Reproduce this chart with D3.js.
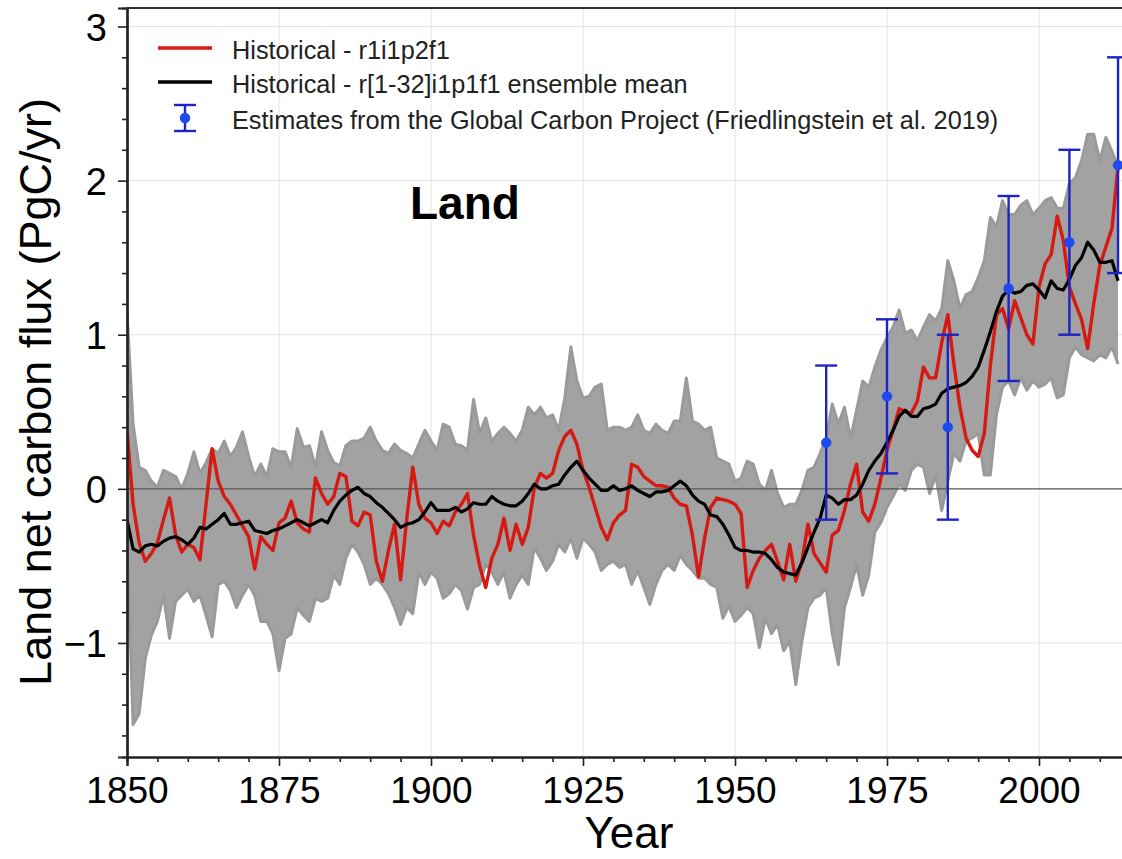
<!DOCTYPE html>
<html>
<head>
<meta charset="utf-8">
<script src="https://cdn.jsdelivr.net/npm/d3@7"></script>
<style>
  html, body { margin: 0; padding: 0; background: #fff; }
  svg { display: block; font-family: "Liberation Sans", Arial, sans-serif; }
</style>
</head>
<body>
<svg id="chart" width="1122" height="859"></svg>
<script>
// ---------------- DATA ----------------
const startYear = 1850;

// Historical - r1i1p2f1 (red), annual 1850..2013
const redSeries = [
  0.38, -0.10, -0.35, -0.47, -0.42, -0.35, -0.20, -0.06, -0.30, -0.41,
  -0.36, -0.38, -0.46, -0.10, 0.26, 0.05, -0.05, -0.10, -0.17, -0.24,
  -0.31, -0.52, -0.31, -0.36, -0.40, -0.22, -0.19, -0.08, -0.22, -0.26,
  -0.28, 0.07, -0.03, -0.10, -0.05, 0.10, 0.08, -0.21, -0.24, -0.15,
  -0.17, -0.47, -0.60, -0.40, -0.23, -0.59, -0.20, 0.14, -0.10, -0.19,
  -0.22, -0.29, -0.21, -0.24, -0.15, -0.10, -0.03, -0.30, -0.50, -0.64,
  -0.45, -0.36, -0.19, -0.40, -0.23, -0.36, -0.25, 0.01, 0.10, 0.07,
  0.10, 0.25, 0.34, 0.38, 0.29, 0.12, 0.01, -0.12, -0.25, -0.33,
  -0.22, -0.17, -0.14, 0.16, 0.14, 0.08, 0.05, 0.02, 0.02, 0.01,
  -0.06, -0.10, -0.11, -0.30, -0.57, -0.32, -0.12, -0.06, -0.07, -0.08,
  -0.10, -0.16, -0.64, -0.53, -0.45, -0.40, -0.36, -0.47, -0.59, -0.36,
  -0.60, -0.47, -0.23, -0.42, -0.48, -0.54, -0.30, -0.27, -0.14, 0.03,
  0.16, -0.15, -0.21, -0.10, 0.07, 0.25, 0.38, 0.52, 0.50, 0.49,
  0.57, 0.79, 0.72, 0.72, 0.95, 1.13, 0.81, 0.53, 0.33, 0.25,
  0.21, 0.36, 0.80, 1.13, 1.17, 1.04, 1.22, 1.11, 1.00, 0.94,
  1.31, 1.46, 1.52, 1.77, 1.61, 1.31, 1.20, 1.10, 0.91, 1.20,
  1.45, 1.57, 1.69, 2.09
];

// Historical - r[1-32]i1p1f1 ensemble mean (black), annual 1850..2013
const meanSeries = [
  -0.20, -0.39, -0.41, -0.37, -0.36, -0.37, -0.34, -0.32, -0.31, -0.33,
  -0.36, -0.32, -0.25, -0.26, -0.23, -0.20, -0.16, -0.23, -0.23, -0.22,
  -0.21, -0.27, -0.28, -0.29, -0.27, -0.26, -0.24, -0.22, -0.20, -0.22,
  -0.24, -0.22, -0.20, -0.22, -0.14, -0.08, -0.04, -0.01, 0.01, -0.03,
  -0.05, -0.09, -0.12, -0.16, -0.20, -0.25, -0.23, -0.22, -0.20, -0.15,
  -0.09, -0.14, -0.14, -0.14, -0.12, -0.15, -0.13, -0.09, -0.10, -0.10,
  -0.05, -0.08, -0.10, -0.11, -0.11, -0.08, -0.03, 0.03, 0.00, 0.00,
  0.02, 0.03, 0.09, 0.14, 0.18, 0.12, 0.07, 0.03, -0.01, -0.01,
  0.02, -0.01, 0.00, 0.02, -0.01, -0.03, -0.05, -0.02, -0.02, -0.01,
  0.02, 0.05, 0.02, -0.04, -0.08, -0.10, -0.17, -0.18, -0.23, -0.30,
  -0.38, -0.40, -0.40, -0.41, -0.41, -0.42, -0.46, -0.51, -0.54, -0.55,
  -0.56, -0.48, -0.38, -0.28, -0.19, -0.04, -0.06, -0.10, -0.07, -0.07,
  -0.04, 0.03, 0.12, 0.18, 0.23, 0.30, 0.38, 0.47, 0.51, 0.47,
  0.47, 0.52, 0.53, 0.55, 0.62, 0.65, 0.66, 0.67, 0.69, 0.73,
  0.79, 0.90, 1.02, 1.15, 1.25, 1.29, 1.27, 1.28, 1.32, 1.33,
  1.29, 1.24, 1.35, 1.30, 1.29, 1.36, 1.45, 1.50, 1.60, 1.55,
  1.47, 1.47, 1.48, 1.35
];

// Spread of the 32 individual ensemble members (grey): upper and lower edge, annual 1850..2013
const memberUpper = [
  1.15, 0.42, 0.14, 0.12, 0.05, 0.01, 0.12, 0.10, 0.08, 0.00,
  0.10, 0.24, 0.10, 0.17, 0.26, 0.23, 0.31, 0.21, 0.27, 0.37,
  0.21, 0.08, 0.16, 0.08, 0.26, 0.24, 0.24, 0.14, 0.39, 0.27,
  0.28, 0.14, 0.37, 0.25, 0.17, 0.15, 0.28, 0.31, 0.31, 0.33,
  0.40, 0.31, 0.25, 0.23, 0.29, 0.25, 0.23, 0.20, 0.29, 0.38,
  0.31, 0.25, 0.42, 0.40, 0.29, 0.28, 0.25, 0.58, 0.36, 0.46,
  0.31, 0.36, 0.40, 0.36, 0.31, 0.38, 0.53, 0.48, 0.53, 0.46,
  0.48, 0.38, 0.59, 0.92, 0.70, 0.59, 0.60, 0.66, 0.68, 0.38,
  0.40, 0.40, 0.38, 0.40, 0.48, 0.38, 0.36, 0.42, 0.38, 0.36,
  0.44, 0.44, 0.72, 0.44, 0.42, 0.38, 0.40, 0.20, 0.18, 0.16,
  0.05, 0.07, 0.18, 0.16, 0.03, -0.01, 0.12, -0.03, -0.12, -0.10,
  -0.10, -0.01, 0.12, 0.14, 0.23, 0.33, 0.55, 0.42, 0.53, 0.33,
  0.51, 0.70, 0.66, 0.79, 0.90, 0.98, 1.05, 1.16, 1.01, 1.03,
  0.96, 1.05, 1.13, 1.09, 1.17, 1.48, 1.35, 1.17, 1.26, 1.28,
  1.37, 1.48, 1.76, 1.70, 1.87, 1.78, 1.78, 1.84, 1.87, 1.78,
  1.82, 1.87, 1.89, 1.82, 1.82, 1.98, 2.02, 2.13, 2.30, 2.30,
  2.13, 2.28, 2.19, 2.09
];
const memberLower = [
  -0.30, -1.53, -1.46, -1.10, -0.95, -0.86, -0.69, -0.97, -0.73, -0.69,
  -0.65, -0.73, -0.69, -0.82, -0.96, -0.62, -0.60, -0.66, -0.77, -0.69,
  -0.62, -0.69, -0.86, -0.86, -0.94, -1.18, -0.97, -0.94, -0.77, -0.82,
  -0.86, -0.71, -0.73, -0.71, -0.56, -0.62, -0.45, -0.36, -0.41, -0.49,
  -0.62, -0.58, -0.62, -0.68, -0.77, -0.88, -0.77, -0.81, -0.54, -0.62,
  -0.54, -0.58, -0.71, -0.68, -0.62, -0.66, -0.78, -0.64, -0.62, -0.49,
  -0.54, -0.62, -0.54, -0.71, -0.62, -0.56, -0.62, -0.38, -0.45, -0.53,
  -0.47, -0.36, -0.41, -0.32, -0.45, -0.32, -0.36, -0.41, -0.53, -0.49,
  -0.47, -0.51, -0.49, -0.62, -0.53, -0.64, -0.75, -0.62, -0.53, -0.49,
  -0.53, -0.43, -0.49, -0.53, -0.58, -0.58, -0.62, -0.64, -0.84, -0.76,
  -0.86, -0.82, -0.77, -0.81, -1.03, -0.84, -0.94, -0.88, -1.05, -0.99,
  -1.27, -0.99, -0.77, -0.71, -0.69, -0.64, -0.94, -1.14, -0.77, -0.64,
  -0.49, -0.69, -0.56, -0.28, -0.22, -0.12, -0.05, 0.03, -0.01, 0.12,
  0.16, 0.14, -0.03, 0.09, -0.14, 0.05, 0.23, 0.18, 0.31, 0.33,
  0.36, 0.09, 0.09, 0.48, 0.66, 0.70, 0.61, 0.72, 0.64, 0.70,
  0.66, 0.68, 0.72, 0.59, 0.61, 0.85, 0.92, 0.87, 0.85, 0.83,
  0.87, 0.85, 0.92, 0.81
];

// Global Carbon Project estimates (Friedlingstein et al. 2019)
const gcpYears = [1965, 1975, 1985, 1995, 2005, 2013];
const gcpValues = [0.3, 0.6, 0.4, 1.3, 1.6, 2.1];
const gcpLow = [-0.2, 0.1, -0.2, 0.7, 1.0, 1.4];
const gcpHigh = [0.8, 1.1, 1.0, 1.9, 2.2, 2.8];

const xTicks = [1850, 1875, 1900, 1925, 1950, 1975, 2000];
const yTicks = [-1, 0, 1, 2, 3];
const legendLabels = [
  "Historical - r1i1p2f1",
  "Historical - r[1-32]i1p1f1 ensemble mean",
  "Estimates from the Global Carbon Project (Friedlingstein et al. 2019)"
];

// ---------------- DRAWING ----------------
const svg = d3.select("#chart");
const W = 1122, H = 859;
const pLeft = 127, pTop = 8, pBottom = 757;

const x = d3.scaleLinear().domain([1850, 2015]).range([pLeft, pLeft + 165 * 6.08]);
const y = d3.scaleLinear().domain([-1.74, 3.12]).range([pBottom, pTop]);

const red = redSeries.map((v, i) => ({ yr: startYear + i, v }));
const mean = meanSeries.map((v, i) => ({ yr: startYear + i, v }));
const band = memberUpper.map((v, i) => ({ yr: startYear + i, hi: v, lo: memberLower[i] }));

svg.append("defs").append("clipPath").attr("id", "plotclip")
  .append("rect").attr("x", pLeft).attr("y", pTop).attr("width", W - pLeft).attr("height", pBottom - pTop);

// gridlines
const grid = svg.append("g");
grid.selectAll("line.gx").data(xTicks.filter(t => t > 1850)).enter().append("line")
  .attr("x1", d => x(d)).attr("x2", d => x(d)).attr("y1", pTop).attr("y2", pBottom)
  .attr("stroke", "#e4e4e4").attr("stroke-width", 1);
grid.selectAll("line.gy").data(yTicks.filter(t => t !== 0)).enter().append("line")
  .attr("x1", pLeft).attr("x2", W).attr("y1", d => y(d)).attr("y2", d => y(d))
  .attr("stroke", "#e4e4e4").attr("stroke-width", 1);

const plot = svg.append("g").attr("clip-path", "url(#plotclip)");

// grey ensemble members spread
plot.append("path").datum(band)
  .attr("d", d3.area().x(d => x(d.yr)).y0(d => y(d.lo)).y1(d => y(d.hi)))
  .attr("fill", "#a2a2a2");
plot.append("path").datum(band)
  .attr("d", d3.line().x(d => x(d.yr)).y(d => y(d.hi)))
  .attr("fill", "none").attr("stroke", "#9a9a9a").attr("stroke-width", 3).attr("stroke-linejoin", "round");
plot.append("path").datum(band)
  .attr("d", d3.line().x(d => x(d.yr)).y(d => y(d.lo)))
  .attr("fill", "none").attr("stroke", "#9a9a9a").attr("stroke-width", 3).attr("stroke-linejoin", "round");

// zero line
plot.append("line").attr("x1", pLeft).attr("x2", W).attr("y1", y(0)).attr("y2", y(0))
  .attr("stroke", "#555").attr("stroke-width", 1.3);

// red and black lines
const line = d3.line().x(d => x(d.yr)).y(d => y(d.v));
plot.append("path").datum(red).attr("d", line)
  .attr("fill", "none").attr("stroke", "#d41a12").attr("stroke-width", 3.4).attr("stroke-linejoin", "round");
plot.append("path").datum(mean).attr("d", line)
  .attr("fill", "none").attr("stroke", "#000").attr("stroke-width", 3.2).attr("stroke-linejoin", "round");

// error bars
const eb = svg.append("g");
const barCol = "#1e23c8", dotCol = "#1f4af2";
gcpYears.forEach((yr, i) => {
  const cx = x(yr);
  eb.append("line").attr("x1", cx).attr("x2", cx).attr("y1", y(gcpLow[i])).attr("y2", y(gcpHigh[i]))
    .attr("stroke", barCol).attr("stroke-width", 2.4);
  [gcpLow[i], gcpHigh[i]].forEach(v => {
    eb.append("line").attr("x1", cx - 11).attr("x2", cx + 11).attr("y1", y(v)).attr("y2", y(v))
      .attr("stroke", barCol).attr("stroke-width", 2.4);
  });
  eb.append("circle").attr("cx", cx).attr("cy", y(gcpValues[i])).attr("r", 5.2).attr("fill", dotCol);
});

// axes
const axisCol = "#222";
const yAxis = svg.append("g").attr("transform", `translate(${pLeft},0)`)
  .call(d3.axisLeft(y).tickValues(yTicks).tickSize(9).tickPadding(11)
    .tickFormat(d => d < 0 ? "\u2212" + Math.abs(d) : d));
const yMinor = svg.append("g").attr("transform", `translate(${pLeft},0)`)
  .call(d3.axisLeft(y).tickValues(d3.range(-16, 31, 2).map(v => v / 10).filter(v => !yTicks.includes(v))).tickSize(5).tickFormat(""));
const xAxis = svg.append("g").attr("transform", `translate(0,${pBottom})`)
  .call(d3.axisBottom(x).tickValues(xTicks).tickSize(9).tickFormat(d3.format("d")));
const xMinor = svg.append("g").attr("transform", `translate(0,${pBottom})`)
  .call(d3.axisBottom(x).tickValues(d3.range(1855, 2015, 5).filter(v => !xTicks.includes(v))).tickSize(5).tickFormat(""));

[yAxis, yMinor, xAxis, xMinor].forEach(g => {
  g.select(".domain").attr("stroke", axisCol).attr("stroke-width", 2.2);
  g.selectAll(".tick line").attr("stroke", axisCol).attr("stroke-width", 1.6);
});
yAxis.selectAll("text").attr("font-size", 38).attr("fill", "#000")
  .attr("font-family", "Liberation Sans, Arial, sans-serif").attr("dy", "0.36em");
xAxis.selectAll("text").attr("font-size", 37).attr("fill", "#000")
  .attr("font-family", "Liberation Sans, Arial, sans-serif").attr("y", 46).attr("dy", 0);

// top frame
svg.append("line").attr("x1", pLeft).attr("x2", W).attr("y1", pTop).attr("y2", pTop)
  .attr("stroke", "#333").attr("stroke-width", 2.2);

// axis titles
svg.append("text").attr("x", 629).attr("y", 848).attr("text-anchor", "middle")
  .attr("font-size", 44).attr("fill", "#000").text("Year");
svg.append("text").attr("transform", "translate(51,392) rotate(-90)").attr("text-anchor", "middle")
  .attr("font-size", 45).attr("fill", "#000").text("Land net carbon flux (PgC/yr)");

// panel label
svg.append("text").attr("x", 410).attr("y", 219).attr("font-size", 46).attr("font-weight", "bold")
  .attr("fill", "#000").text("Land");

// legend
const lg = svg.append("g");
const lgTextX = 232, lgRows = [48, 82, 118];
lg.append("line").attr("x1", 158).attr("x2", 212).attr("y1", lgRows[0]).attr("y2", lgRows[0])
  .attr("stroke", "#d41a12").attr("stroke-width", 3.4);
lg.append("line").attr("x1", 158).attr("x2", 212).attr("y1", lgRows[1]).attr("y2", lgRows[1])
  .attr("stroke", "#000").attr("stroke-width", 3.4);
lg.append("line").attr("x1", 185).attr("x2", 185).attr("y1", lgRows[2] - 13).attr("y2", lgRows[2] + 13)
  .attr("stroke", barCol).attr("stroke-width", 2.4);
[lgRows[2] - 13, lgRows[2] + 13].forEach(yy => {
  lg.append("line").attr("x1", 174).attr("x2", 196).attr("y1", yy).attr("y2", yy)
    .attr("stroke", barCol).attr("stroke-width", 2.4);
});
lg.append("circle").attr("cx", 185).attr("cy", lgRows[2]).attr("r", 5.2).attr("fill", dotCol);
lg.selectAll("text.lg").data(legendLabels).enter().append("text")
  .attr("x", lgTextX).attr("y", (d, i) => lgRows[i] + 2).attr("dy", "0.36em")
  .attr("font-size", 25.3).attr("fill", "#222").text(d => d);
</script>
</body>
</html>
